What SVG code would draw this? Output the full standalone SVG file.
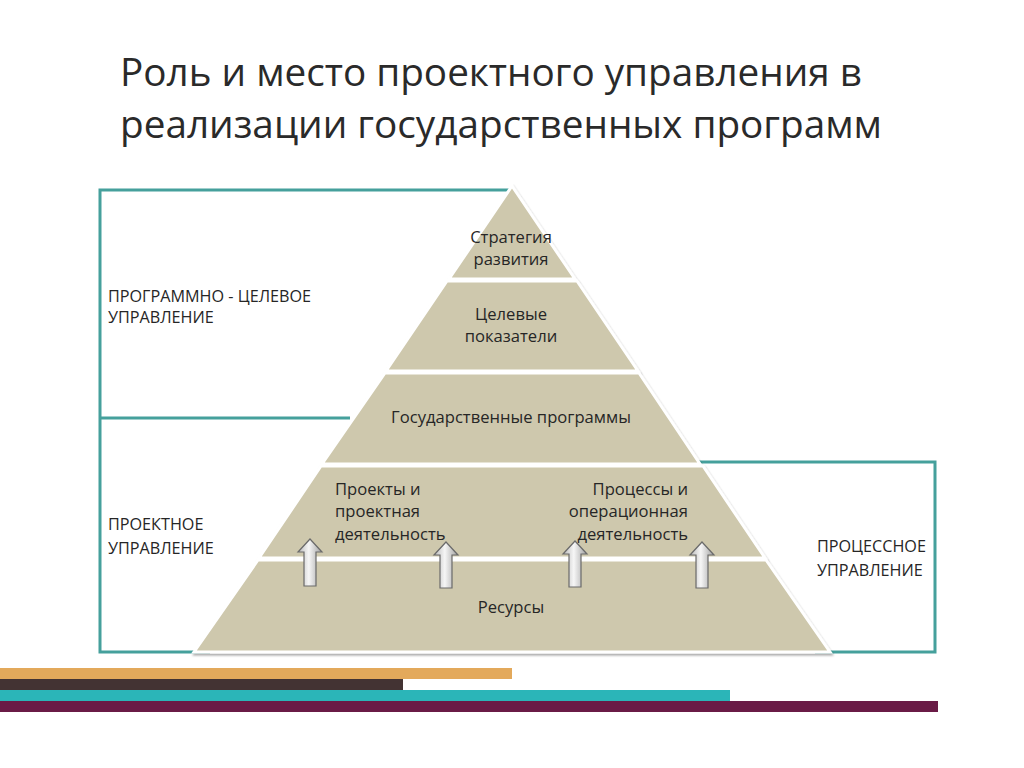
<svg xmlns="http://www.w3.org/2000/svg" width="1024" height="768" viewBox="0 0 1024 768">
  <defs>
    <style>
      .title { font-family: "Open Sans", "Liberation Sans", sans-serif; font-size: 38px; fill: #2a2a2a; }
      .lbl { font-family: "Open Sans", "Liberation Sans", sans-serif; font-size: 16.6px; fill: #262626; }
      .side { font-family: "Open Sans", "Liberation Sans", sans-serif; font-size: 16.2px; fill: #262626; }
      .frame { fill: none; stroke: #45A09C; stroke-width: 3; }
      .layer { fill: #CEC8AD; stroke: #ffffff; stroke-width: 3; stroke-linejoin: miter; filter: url(#sh); }
      .arrow { fill: url(#ag); stroke: #6a6a6a; stroke-width: 1.2; stroke-linejoin: miter; }
    </style>
    <filter id="sh" x="-10%" y="-10%" width="120%" height="130%">
      <feGaussianBlur in="SourceAlpha" stdDeviation="1.2"/>
      <feOffset dx="1" dy="2" result="b"/>
      <feComponentTransfer><feFuncA type="linear" slope="0.35"/></feComponentTransfer>
      <feMerge><feMergeNode/><feMergeNode in="SourceGraphic"/></feMerge>
    </filter>
    <linearGradient id="ag" x1="0" y1="0" x2="1" y2="0">
      <stop offset="0" stop-color="#b8b8b8"/>
      <stop offset="0.45" stop-color="#f6f6f6"/>
      <stop offset="1" stop-color="#a0a0a0"/>
    </linearGradient>
  </defs>

  <rect width="1024" height="768" fill="#ffffff"/>

  <g id="title">
    <text class="title" x="120" y="86" textLength="742" lengthAdjust="spacingAndGlyphs">Роль и место проектного управления в</text>
    <text class="title" x="120" y="138" textLength="762" lengthAdjust="spacingAndGlyphs">реализации государственных программ</text>
  </g>

  <g id="frames">
    <path class="frame" d="M510,190 H100 V652 H210"/>
    <path class="frame" d="M100,418 H350" stroke-width="4"/>
    <path class="frame" d="M695,462 H935 V652 H815"/>
  </g>

  <g id="label-program">
    <text class="side" x="108" y="302">ПРОГРАММНО - ЦЕЛЕВОЕ</text>
    <text class="side" x="108" y="323">УПРАВЛЕНИЕ</text>
  </g>
  <g id="label-project">
    <text class="side" x="108" y="530">ПРОЕКТНОЕ</text>
    <text class="side" x="108" y="554">УПРАВЛЕНИЕ</text>
  </g>
  <g id="label-process">
    <text class="side" x="817" y="552">ПРОЦЕССНОЕ</text>
    <text class="side" x="817" y="576">УПРАВЛЕНИЕ</text>
  </g>

  <g id="layer-strategy">
    <polygon class="layer" points="512,186 575,279 449,279"/>
    <text class="lbl" x="511" y="243" text-anchor="middle">Стратегия</text>
    <text class="lbl" x="511" y="265" text-anchor="middle">развития</text>
  </g>
  <g id="layer-targets">
    <polygon class="layer" points="447,281 577,281 638,371 386,371"/>
    <text class="lbl" x="511" y="320" text-anchor="middle">Целевые</text>
    <text class="lbl" x="511" y="342" text-anchor="middle">показатели</text>
  </g>
  <g id="layer-programs">
    <polygon class="layer" points="385,373 639,373 700,464 322,464"/>
    <text class="lbl" x="511" y="423" text-anchor="middle">Государственные программы</text>
  </g>
  <g id="layer-projects">
    <polygon class="layer" points="321,466 703,466 765,558 259,558"/>
    <text class="lbl" x="335" y="495">Проекты и</text>
    <text class="lbl" x="335" y="517">проектная</text>
    <text class="lbl" x="335" y="540">деятельность</text>
    <text class="lbl" x="688" y="495" text-anchor="end">Процессы и</text>
    <text class="lbl" x="688" y="517" text-anchor="end">операционная</text>
    <text class="lbl" x="688" y="540" text-anchor="end">деятельность</text>
  </g>
  <g id="layer-resources">
    <polygon class="layer" points="258,560 766,560 830,652 194,652"/>
    <text class="lbl" x="511" y="613" text-anchor="middle">Ресурсы</text>
  </g>

  <g id="connectors">
    <polygon class="arrow" points="310,539 322,552 316,552 316,586 304,586 304,552 298,552"/>
    <polygon class="arrow" points="446,542 458,555 452,555 452,588 440,588 440,555 434,555"/>
    <polygon class="arrow" points="575,541 587,554 581,554 581,587 569,587 569,554 563,554"/>
    <polygon class="arrow" points="702,542 714,555 708,555 708,588 696,588 696,555 690,555"/>
  </g>

  <g id="bars">
    <rect x="0" y="668" width="512" height="11" fill="#E3A95B"/>
    <rect x="0" y="679" width="403" height="11" fill="#433333"/>
    <rect x="0" y="690" width="730" height="11" fill="#2BB5B8"/>
    <rect x="0" y="701" width="938" height="11" fill="#6A1B46"/>
  </g>
</svg>
